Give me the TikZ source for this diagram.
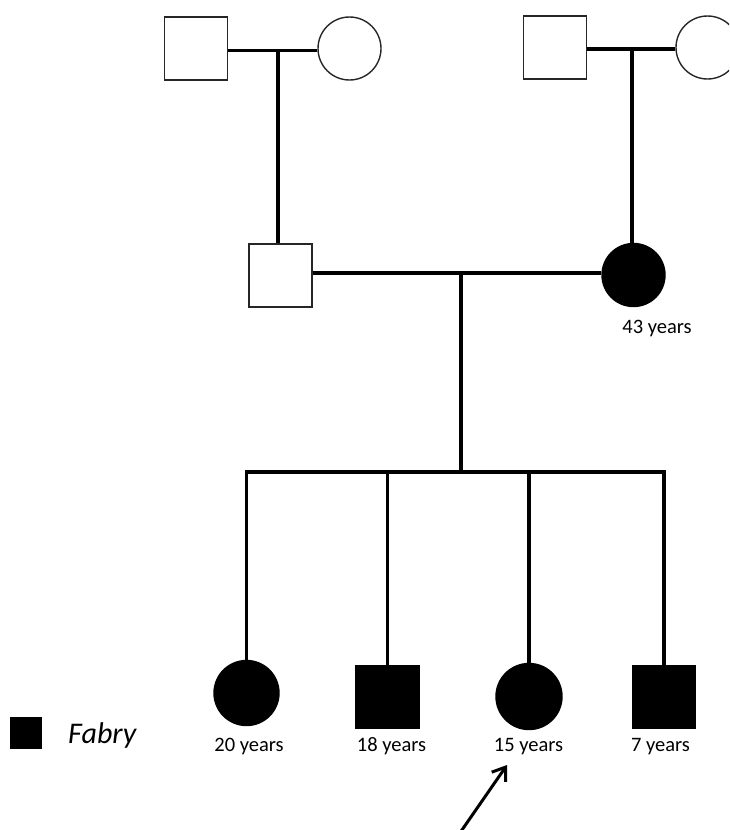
\documentclass[tikz,border=0pt]{standalone}
\usepackage{fontspec}
\setmainfont{Carlito}
\usetikzlibrary{arrows.meta}
\begin{document}
\begin{tikzpicture}[x=1pt,y=-1pt,
  male/.style={draw=black!85,line width=1.4pt,minimum size=63pt,inner sep=0pt,rectangle},
  female/.style={draw=black!85,line width=1.4pt,minimum size=63pt,inner sep=0pt,circle},
  affected/.style={fill=black,draw=black},
  link/.style={line width=3.4pt},
  age/.style={font=\fontsize{20.5}{20.5}\selectfont,inner sep=0pt,anchor=base}]
\useasboundingbox (0,0) rectangle (729,830);
\clip (0,0) rectangle (729,830);

% first generation
\node[male]   (gfa) at (196,48.5) {};
\node[female] (gma) at (349.5,48.5) {};
\node[male]   (gfb) at (555,47.5) {};
\node[female] (gmb) at (707.5,47.5) {};

% second generation
\node[male]   (fa) at (280.5,275.5) {};
\node[female,affected] (mo) at (633.5,275) {};
\node[age] (lmo) at (657,333) {43 years};

% third generation
\node[female,affected,minimum size=65pt] (c1) at (246.5,693) {};
\node[male,affected]   (c2) at (387.5,697) {};
\node[female,affected,minimum size=66pt] (c3) at (529,696.5) {};
\node[male,affected]   (c4) at (664,697) {};
\node[age] (l1) at (249,751) {20 years};
\node[age] (l2) at (391.5,751) {18 years};
\node[age] (l3) at (528.5,751) {15 years};
\node[age] (l4) at (660.5,751) {7 years};

% marriages and descent
\coordinate (ma) at (278,50.5);
\coordinate (mb) at (632,49);
\coordinate (mc) at (461,273);
\coordinate (sb) at (461,472);
\draw[link] (gfa.east |- ma) -- (gma.west |- ma);
\draw[link] (ma) -- (ma |- fa.north);
\draw[link] (gfb.east |- mb) -- (gmb.west |- mb);
\draw[link] (mb) -- (mb |- mo.north);
\draw[link] (fa.east |- mc) -- (mo.west |- mc);
\draw[link] (mc) -- (sb);
\draw[link,line cap=rect] (c1.north |- sb) -- (c4.north |- sb);
\draw[link] (c1.north |- sb) -- (c1.north);
\draw[link] (c2.north |- sb) -- (c2.north);
\draw[link] (c3.north |- sb) -- (c3.north);
\draw[link] (c4.north |- sb) -- (c4.north);

% proband arrow
\coordinate (pa) at (455,840);
\draw[line width=3pt,-{Straight Barb[length=12pt,width=17pt,line width=3pt]}] (pa) -- (507,765);

% legend
\node[male,affected,minimum size=30pt] (key) at (26,733) {};
\node[anchor=west,inner sep=0pt,font=\fontsize{30}{30}\selectfont\itshape] (keytext) at (68,735) {Fabry};
\end{tikzpicture}
\end{document}
